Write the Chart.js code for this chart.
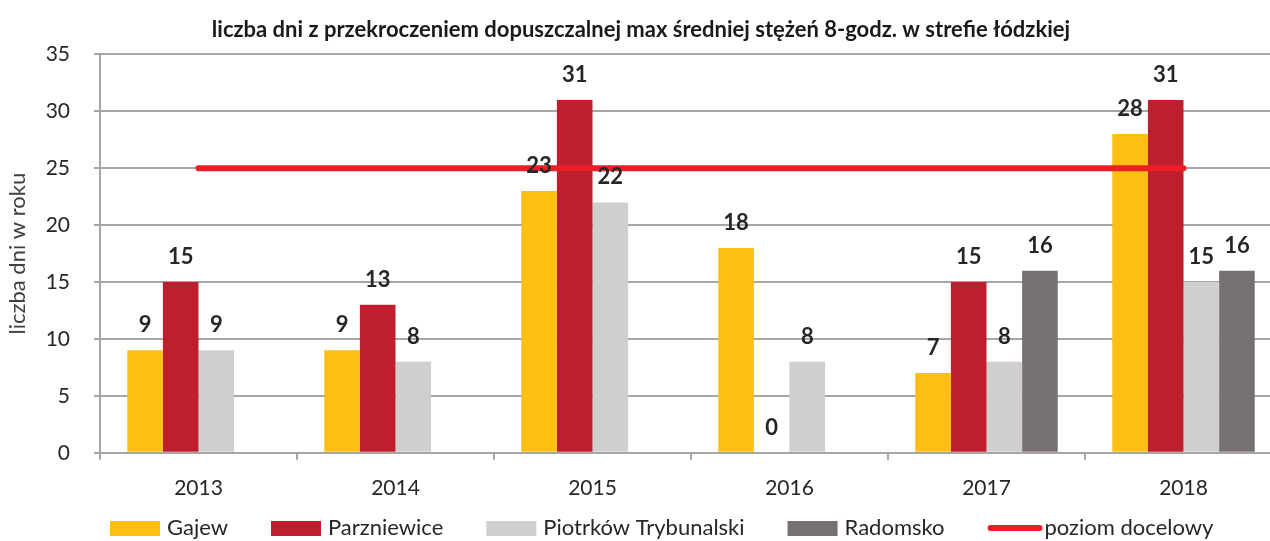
<!DOCTYPE html>
<html><head><meta charset="utf-8">
<script src="https://cdn.jsdelivr.net/npm/chart.js@4.4.0/dist/chart.umd.min.js"></script>
<style>html,body{margin:0;padding:0;overflow:hidden;background:#fff}#wrap{width:1285px;height:541px}</style>
</head><body><div id="wrap"><canvas id="c" width="1285" height="541"></canvas></div>
<script>
const categories = ['2013', '2014', '2015', '2016', '2017', '2018'];
const gajew = [9, 9, 23, 18, 7, 28];
const parzniewice = [15, 13, 31, 0, 15, 31];
const piotrkow = [9, 8, 22, 8, 8, 15];
const radomsko = [null, null, null, null, 16, 16];
const poziomDocelowy = [25, 25, 25, 25, 25, 25];
const yTicks = [0, 5, 10, 15, 20, 25, 30, 35];
const seriesNames = ['Gajew', 'Parzniewice', 'Piotrków Trybunalski', 'Radomsko', 'poziom docelowy'];
const titleText = 'liczba dni z przekroczeniem dopuszczalnej max średniej stężeń 8-godz. w strefie łódzkiej';
const yTitle = 'liczba dni w roku';

const FONT = 'Lato, Carlito, "Open Sans", sans-serif';
const GRID = '#a6a6a6';

const valueLabels = {
  id: 'valueLabels',
  afterDatasetsDraw(chart) {
    const ctx = chart.ctx;
    ctx.save();
    ctx.font = 'bold 22px ' + FONT;
    ctx.fillStyle = '#262626';
    ctx.textAlign = 'center';
    ctx.textBaseline = 'middle';
    chart.data.datasets.forEach((ds, i) => {
      if (ds.type === 'line') return;
      const meta = chart.getDatasetMeta(i);
      meta.data.forEach((el, j) => {
        const v = ds.data[j];
        if (v === null || v === undefined) return;
        ctx.fillText(String(v), el.x, el.y - 25);
      });
    });
    ctx.restore();
  }
};

const customLegend = {
  id: 'customLegend',
  afterDraw(chart) {
    const ctx = chart.ctx;
    ctx.save();
    ctx.font = '22px ' + FONT;
    ctx.textBaseline = 'middle';
    ctx.textAlign = 'left';
    const yc = chart.height - 13;
    let x = 110;
    chart.data.datasets.forEach(ds => {
      const tw = ctx.measureText(ds.label).width;
      if (ds.type === 'line') {
        ctx.strokeStyle = ds.borderColor;
        ctx.lineWidth = 6;
        ctx.lineCap = 'round';
        ctx.beginPath();
        ctx.moveTo(x + 3, yc);
        ctx.lineTo(x + 52, yc);
        ctx.stroke();
        ctx.fillStyle = '#262626';
        ctx.fillText(ds.label, x + 57, yc);
        x += 57 + tw + 43;
      } else {
        ctx.fillStyle = ds.backgroundColor;
        ctx.fillRect(x, yc - 7, 50, 15);
        ctx.fillStyle = '#262626';
        ctx.fillText(ds.label, x + 57, yc);
        x += 57 + tw + 43;
      }
    });
    ctx.restore();
  }
};

new Chart(document.getElementById('c'), {
  data: {
    labels: categories,
    datasets: [
      { type: 'bar', label: seriesNames[0], data: gajew, backgroundColor: '#fdbf12', order: 1 },
      { type: 'bar', label: seriesNames[1], data: parzniewice, backgroundColor: '#be1e2d', order: 1 },
      { type: 'bar', label: seriesNames[2], data: piotrkow, backgroundColor: '#d0cecf', order: 1 },
      { type: 'bar', label: seriesNames[3], data: radomsko, backgroundColor: '#767170', order: 1 },
      { type: 'line', label: seriesNames[4], data: poziomDocelowy, borderColor: '#ed1f24', backgroundColor: '#ed1f24',
        borderWidth: 6, borderCapStyle: 'round', pointRadius: 0, fill: false, order: 0 }
    ]
  },
  options: {
    responsive: false,
    devicePixelRatio: 1,
    animation: false,
    datasets: { bar: { categoryPercentage: 0.723, barPercentage: 1.0 } },
    layout: { padding: { left: 0, right: 3, top: 0, bottom: 24 } },
    plugins: {
      legend: { display: false },
      tooltip: { enabled: false },
      title: {
        display: true, text: titleText, color: '#1a1a1a',
        font: { family: FONT, size: 22, weight: 'bold' },
        padding: { top: 17, bottom: 11 }
      }
    },
    scales: {
      x: {
        grid: { offset: true, drawOnChartArea: false, drawTicks: true, tickLength: 7, color: GRID, lineWidth: 2 },
        border: { color: GRID, width: 2 },
        ticks: { font: { family: FONT, size: 21 }, color: '#262626', padding: 16 }
      },
      y: {
        min: 0, max: 35,
        afterBuildTicks: s => { s.ticks = yTicks.map(v => ({ value: v })); },
        afterFit: s => { s.width = 100; },
        ticks: { font: { family: FONT, size: 21 }, color: '#262626', padding: 24 },
        grid: { color: GRID, lineWidth: 2, tickLength: 6 },
        border: { color: GRID, width: 2 },
        title: { display: true, text: yTitle, color: '#404040', font: { family: FONT, size: 22 }, padding: { top: 5, bottom: 0 } }
      }
    }
  },
  plugins: [valueLabels, customLegend]
});
</script>
</body></html>
